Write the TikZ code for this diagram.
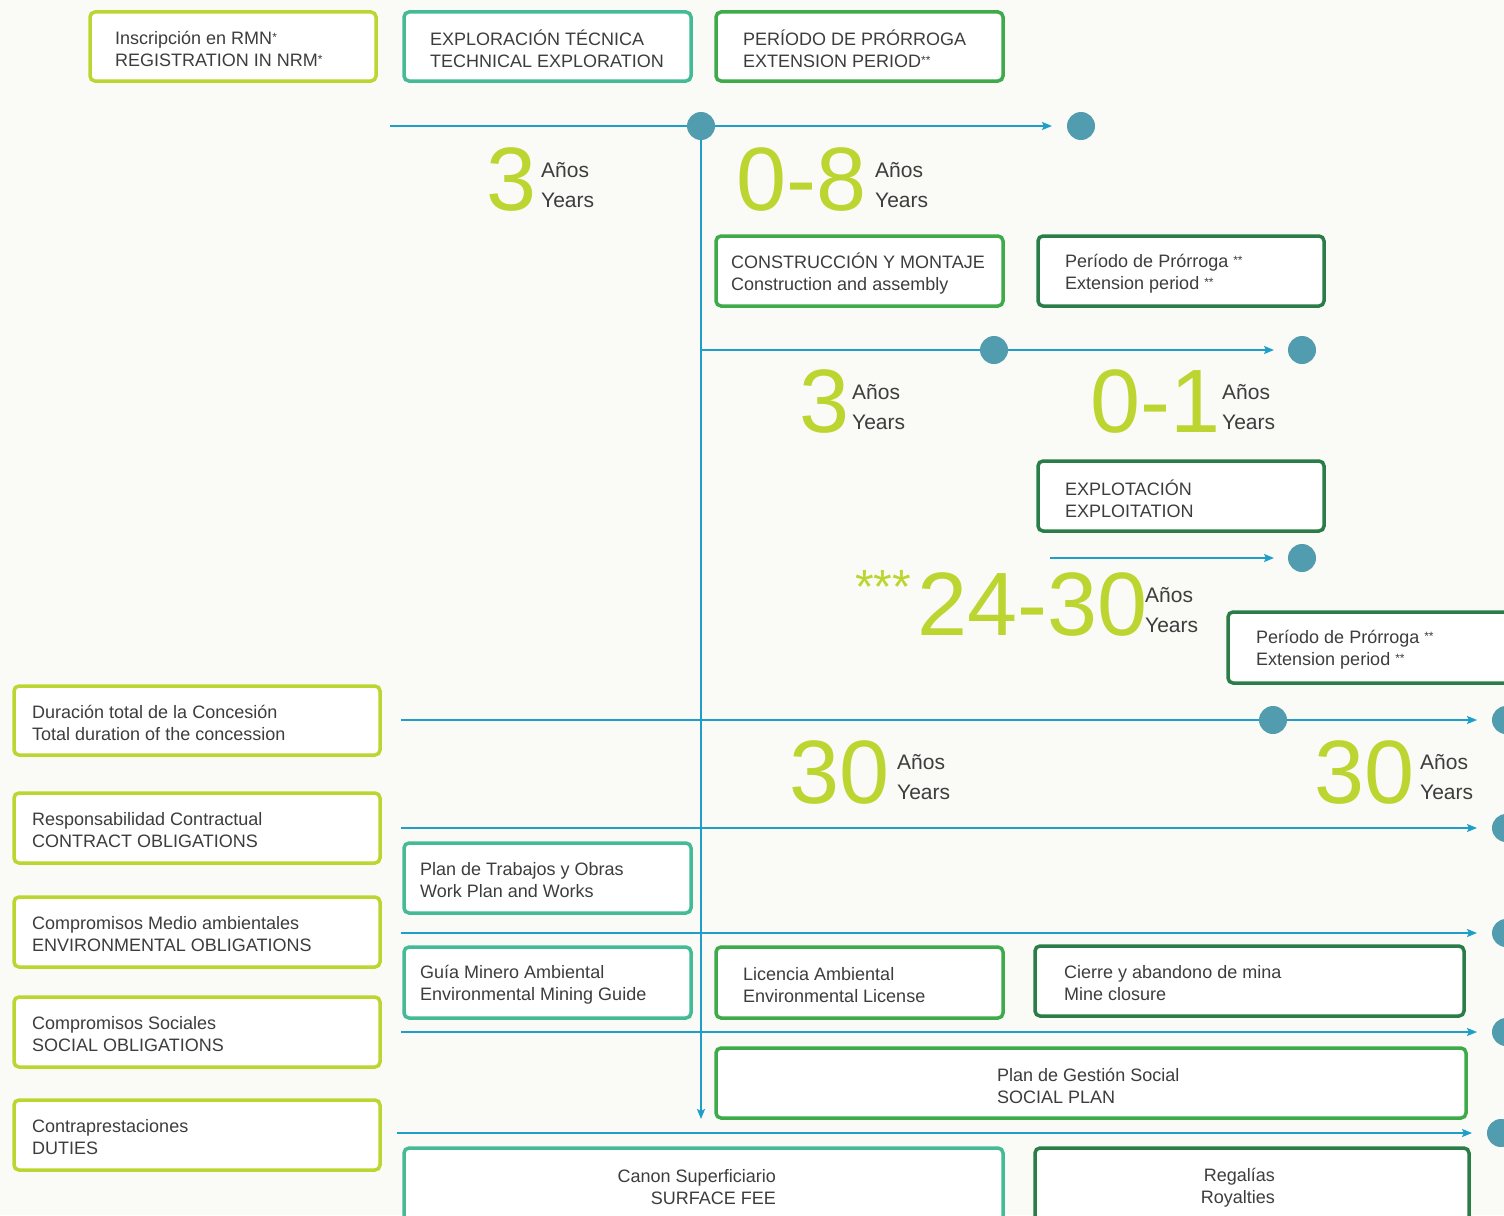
\documentclass[tikz,border=0pt]{standalone}
\usepackage{fontspec}
\setmainfont{Liberation Sans}
\usetikzlibrary{arrows.meta}
\definecolor{lime}{HTML}{BDD531}
\definecolor{teal}{HTML}{45BA97}
\definecolor{mgreen}{HTML}{3EAA4A}
\definecolor{dgreen}{HTML}{2B7D47}
\definecolor{lineblue}{HTML}{1E9EC8}
\definecolor{dotblue}{HTML}{519CAE}
\definecolor{txt}{HTML}{3D3D3D}
\definecolor{bgc}{HTML}{FAFBF6}
\newcommand\stars[1]{\raisebox{3pt}{\fontsize{12}{12}\selectfont #1}}
\tikzset{
  box/.style={draw=#1, line width=3.5pt, rounded corners=5pt, fill=white, outer sep=0pt, inner sep=0pt, anchor=north west},
  txt/.style={text=txt, align=left, inner sep=0pt, yshift=-2.5pt, font=\fontsize{18}{22}\selectfont},
  num/.style={text=lime, inner sep=0pt, anchor=base west, font=\fontsize{90}{90}\selectfont},
  yr/.style={text=txt, inner sep=0pt, anchor=base west, font=\fontsize{21}{21}\selectfont},
  dot/.style={circle, fill=dotblue, minimum size=28pt, inner sep=0pt},
  tl/.style={draw=lineblue, line width=2.2pt},
  tla/.style={tl, -{Stealth[length=10pt,width=8pt,inset=2pt]}}
}
\begin{document}
\begin{tikzpicture}[x=1pt,y=-1pt]
\useasboundingbox (0,0) rectangle (1504,1215);
\clip (0,0) rectangle (1504,1215);
\fill[bgc] (0,0) rectangle (1504,1215);

% timeline coordinates
\coordinate (l1s) at (390,126); \coordinate (l1e) at (1052,126);
\coordinate (vs) at (701,126); \coordinate (ve) at (701,1119);
\coordinate (l2s) at (701,350); \coordinate (l2e) at (1274,350);
\coordinate (l3s) at (1050,558); \coordinate (l3e) at (1274,558);
\coordinate (l4s) at (401,720); \coordinate (l4e) at (1477,720);
\coordinate (l5s) at (401,828); \coordinate (l5e) at (1477,828);
\coordinate (l6s) at (401,933); \coordinate (l6e) at (1477,933);
\coordinate (l7s) at (401,1032); \coordinate (l7e) at (1477,1032);
\coordinate (l8s) at (397,1133); \coordinate (l8e) at (1472,1133);

\draw[tla] (l1s) -- (l1e);
\draw[tla] (vs) -- (ve);
\draw[tla] (l2s) -- (l2e);
\draw[tla] (l3s) -- (l3e);
\draw[tla] (l4s) -- (l4e);
\draw[tla] (l5s) -- (l5e);
\draw[tla] (l6s) -- (l6e);
\draw[tla] (l7s) -- (l7e);
\draw[tla] (l8s) -- (l8e);

% dots
\node[dot] (d1) at (701,126) {};
\node[dot] (d2) at (1081,126) {};
\node[dot] (d3) at (994,350) {};
\node[dot] (d4) at (1302,350) {};
\node[dot] (d5) at (1302,558) {};
\node[dot] (d6) at (1273,720) {};
\node[dot] (d7) at (1506,720) {};
\node[dot] (d8) at (1506,828) {};
\node[dot] (d9) at (1506,933) {};
\node[dot] (d10) at (1506,1032) {};
\node[dot] (d11) at (1501,1133) {};

% boxes
\node[box=lime, minimum width=286, minimum height=69] (b1) at (90,12) {};
\node[txt, anchor=west, xshift=25] (t1) at (b1.west) {Inscripción en RMN\stars{*}\\REGISTRATION IN NRM\stars{*}};
\node[box=teal, minimum width=287, minimum height=69] (b2) at (404,12) {};
\node[txt, anchor=west, xshift=26] (t2) at (b2.west) {EXPLORACIÓN TÉCNICA\\TECHNICAL EXPLORATION};
\node[box=mgreen, minimum width=287, minimum height=69] (b3) at (716,12) {};
\node[txt, anchor=west, xshift=27] (t3) at (b3.west) {PERÍODO DE PRÓRROGA\\EXTENSION PERIOD\stars{**}};
\node[box=mgreen, minimum width=287, minimum height=70] (b4) at (716,236) {};
\node[txt, anchor=west, xshift=15] (t4) at (b4.west) {CONSTRUCCIÓN Y MONTAJE\\Construction and assembly};
\node[box=dgreen, minimum width=286, minimum height=70] (b5) at (1038,236) {};
\node[txt, anchor=west, xshift=27] (t5) at (b5.west) {Período de Prórroga \stars{**}\\Extension period \stars{**}};
\node[box=dgreen, minimum width=286, minimum height=70] (b6) at (1038,461) {};
\node[txt, anchor=west, xshift=27] (t6) at (b6.west) {EXPLOTACIÓN\\EXPLOITATION};
\node[box=dgreen, minimum width=300, minimum height=71] (b7) at (1228,612) {};
\node[txt, anchor=west, xshift=28] (t7) at (b7.west) {Período de Prórroga \stars{**}\\Extension period \stars{**}};

\node[box=lime, minimum width=366, minimum height=69] (b8) at (14,686) {};
\node[txt, anchor=west, xshift=18] (t8) at (b8.west) {Duración total de la Concesión\\Total duration of the concession};
\node[box=lime, minimum width=366, minimum height=70] (b9) at (14,793) {};
\node[txt, anchor=west, xshift=18] (t9) at (b9.west) {Responsabilidad Contractual\\CONTRACT OBLIGATIONS};
\node[box=lime, minimum width=366, minimum height=70] (b10) at (14,897) {};
\node[txt, anchor=west, xshift=18] (t10) at (b10.west) {Compromisos Medio ambientales\\ENVIRONMENTAL OBLIGATIONS};
\node[box=lime, minimum width=366, minimum height=70] (b11) at (14,997) {};
\node[txt, anchor=west, xshift=18] (t11) at (b11.west) {Compromisos Sociales\\SOCIAL OBLIGATIONS};
\node[box=lime, minimum width=366, minimum height=70] (b12) at (14,1100) {};
\node[txt, anchor=west, xshift=18] (t12) at (b12.west) {Contraprestaciones\\DUTIES};

\node[box=teal, minimum width=287, minimum height=70] (b13) at (404,843) {};
\node[txt, anchor=west, xshift=16] (t13) at (b13.west) {Plan de Trabajos y Obras\\Work Plan and Works};
\node[box=teal, minimum width=287, minimum height=71] (b14) at (404,947) {};
\node[txt, anchor=west, xshift=16] (t14) at (b14.west) {Guía Minero Ambiental\\Environmental Mining Guide};
\node[box=mgreen, minimum width=287, minimum height=71] (b15) at (716,947) {};
\node[txt, anchor=west, xshift=27] (t15) at (b15.west) {Licencia Ambiental\\Environmental License};
\node[box=dgreen, minimum width=429, minimum height=70] (b16) at (1035,946) {};
\node[txt, anchor=west, xshift=29] (t16) at (b16.west) {Cierre y abandono de mina\\Mine closure};
\node[box=mgreen, minimum width=750, minimum height=70] (b17) at (716,1048) {};
\node[txt, anchor=west, xshift=281] (t17) at (b17.west) {Plan de Gestión Social\\SOCIAL PLAN};
\node[box=teal, minimum width=599, minimum height=74] (b18) at (404,1148) {};
\node[txt, align=right, anchor=east, xshift=-227] (t18) at (b18.east) {Canon Superficiario\\SURFACE FEE};
\node[box=dgreen, minimum width=434, minimum height=74] (b19) at (1035,1148) {};
\node[txt, align=right, anchor=east, xshift=-194] (t19) at (b19.east) {Regalías\\Royalties};

% durations
\node[num] (n1) at (486,210) {3};
\node[yr] (a1) at (541,177) {Años};
\node[yr] (y1) at (541,207) {Years};
\node[num] (n2) at (736,210) {0-8};
\node[yr] (a2) at (875,177) {Años};
\node[yr] (y2) at (875,207) {Years};
\node[num] (n3) at (799,432) {3};
\node[yr] (a3) at (852,399) {Años};
\node[yr] (y3) at (852,429) {Years};
\node[num] (n4) at (1090,432) {0-1};
\node[yr] (a4) at (1222,399) {Años};
\node[yr] (y4) at (1222,429) {Years};
\node[num, font=\fontsize{48}{48}\selectfont] (s5) at (855,603) {***};
\node[num] (n5) at (917,635) {24-30};
\node[yr] (a5) at (1145,602) {Años};
\node[yr] (y5) at (1145,632) {Years};
\node[num] (n6) at (789,803) {30};
\node[yr] (a6) at (897,769) {Años};
\node[yr] (y6) at (897,799) {Years};
\node[num] (n7) at (1314,803) {30};
\node[yr] (a7) at (1420,769) {Años};
\node[yr] (y7) at (1420,799) {Years};
\end{tikzpicture}
\end{document}
